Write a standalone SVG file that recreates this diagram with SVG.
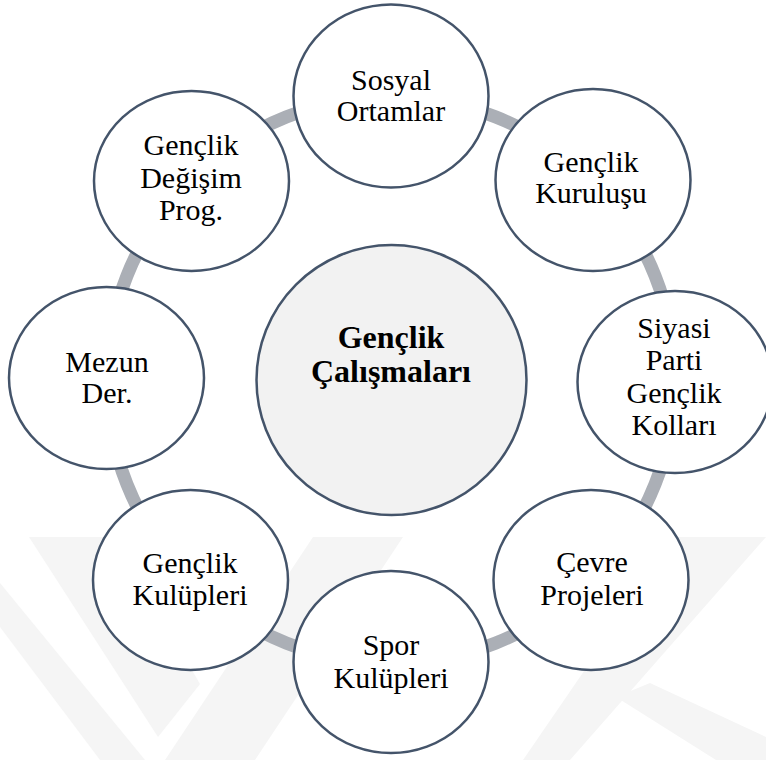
<svg xmlns="http://www.w3.org/2000/svg" width="766" height="760" viewBox="0 0 766 760">
<rect x="0" y="0" width="766" height="760" fill="#ffffff"/>
<g id="watermark" fill="#f5f5f5" stroke="none">
<polygon points="29,537 115,537 200,684 158,737"/>
<polygon points="0,583 0,627 100,760 145,760"/>
<polygon points="313,537 403,537 255,760 165,760"/>
<polygon points="676,537 766,537 570,760 523,760"/>
<polygon points="616,697 650,683 766,737 766,760 716,760"/>
</g>
<g id="connectors">
<ellipse cx="391" cy="380" rx="284" ry="283" fill="none" stroke="#abafb6" stroke-width="13"/>
</g>
<g id="hub">
<circle cx="391.5" cy="380" r="135" fill="#f2f2f2" stroke="#44546a" stroke-width="2.5"/>
<text x="391" y="348" font-family="Liberation Serif" font-size="32" font-weight="bold" text-anchor="middle">Gençlik</text>
<text x="391" y="382" font-family="Liberation Serif" font-size="32" font-weight="bold" text-anchor="middle">Çalışmaları</text>
</g>
<g id="n-sosyal">
<ellipse cx="391" cy="96" rx="97.5" ry="91.5" fill="#ffffff" stroke="#44546a" stroke-width="2.5"/>
<text x="391" y="90" font-family="Liberation Serif" font-size="30" text-anchor="middle">Sosyal</text>
<text x="391" y="121" font-family="Liberation Serif" font-size="30" text-anchor="middle">Ortamlar</text>
</g>
<g id="n-kurulus">
<ellipse cx="593" cy="180" rx="97.5" ry="91" fill="#ffffff" stroke="#44546a" stroke-width="2.5"/>
<text x="591" y="172" font-family="Liberation Serif" font-size="30" text-anchor="middle">Gençlik</text>
<text x="591" y="203" font-family="Liberation Serif" font-size="30" text-anchor="middle">Kuruluşu</text>
</g>
<g id="n-siyasi">
<ellipse cx="675" cy="382" rx="97.5" ry="91" fill="#ffffff" stroke="#44546a" stroke-width="2.5"/>
<text x="674" y="338" font-family="Liberation Serif" font-size="30" text-anchor="middle">Siyasi</text>
<text x="674" y="370" font-family="Liberation Serif" font-size="30" text-anchor="middle">Parti</text>
<text x="674" y="403" font-family="Liberation Serif" font-size="30" text-anchor="middle">Gençlik</text>
<text x="674" y="435" font-family="Liberation Serif" font-size="30" text-anchor="middle">Kolları</text>
</g>
<g id="n-cevre">
<ellipse cx="591" cy="580" rx="97.5" ry="90" fill="#ffffff" stroke="#44546a" stroke-width="2.5"/>
<text x="592" y="572" font-family="Liberation Serif" font-size="30" text-anchor="middle">Çevre</text>
<text x="592" y="605" font-family="Liberation Serif" font-size="30" text-anchor="middle">Projeleri</text>
</g>
<g id="n-spor">
<ellipse cx="391" cy="662" rx="97.5" ry="91" fill="#ffffff" stroke="#44546a" stroke-width="2.5"/>
<text x="391" y="655" font-family="Liberation Serif" font-size="30" text-anchor="middle">Spor</text>
<text x="391" y="688" font-family="Liberation Serif" font-size="30" text-anchor="middle">Kulüpleri</text>
</g>
<g id="n-kulupleri">
<ellipse cx="190.5" cy="580" rx="97.5" ry="90" fill="#ffffff" stroke="#44546a" stroke-width="2.5"/>
<text x="190" y="573" font-family="Liberation Serif" font-size="30" text-anchor="middle">Gençlik</text>
<text x="190" y="605" font-family="Liberation Serif" font-size="30" text-anchor="middle">Kulüpleri</text>
</g>
<g id="n-mezun">
<ellipse cx="106.5" cy="378" rx="97.5" ry="91" fill="#ffffff" stroke="#44546a" stroke-width="2.5"/>
<text x="107" y="372" font-family="Liberation Serif" font-size="30" text-anchor="middle">Mezun</text>
<text x="107" y="403" font-family="Liberation Serif" font-size="30" text-anchor="middle">Der.</text>
</g>
<g id="n-degisim">
<ellipse cx="191.5" cy="181" rx="97.5" ry="90" fill="#ffffff" stroke="#44546a" stroke-width="2.5"/>
<text x="191" y="155" font-family="Liberation Serif" font-size="30" text-anchor="middle">Gençlik</text>
<text x="191" y="188" font-family="Liberation Serif" font-size="30" text-anchor="middle">Değişim</text>
<text x="191" y="220" font-family="Liberation Serif" font-size="30" text-anchor="middle">Prog.</text>
</g>
</svg>
